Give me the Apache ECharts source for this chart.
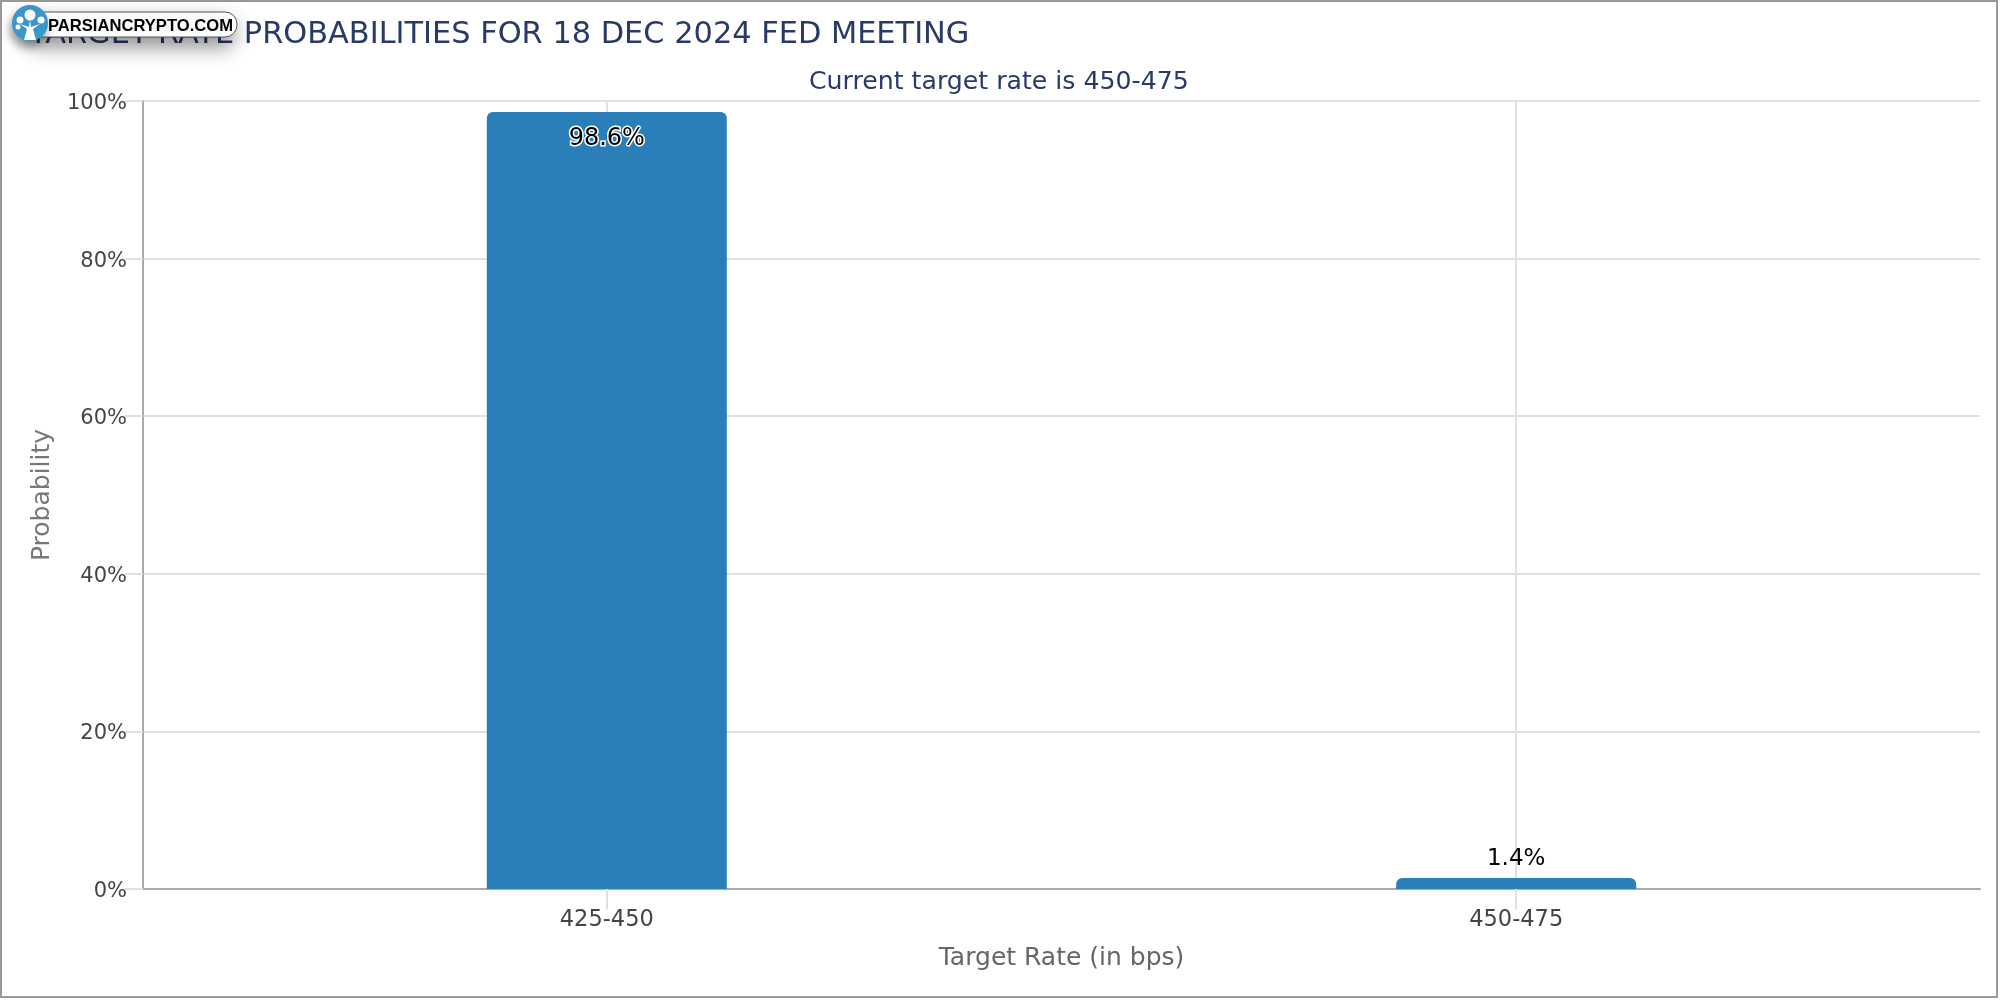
<!DOCTYPE html>
<html>
<head>
<meta charset="utf-8">
<title>Target rate probabilities</title>
<script src="https://cdn.jsdelivr.net/npm/echarts@6/dist/echarts.min.js"></script>
<style>
    html, body { margin: 0; padding: 0; background: #fff; }
    #chart { width: 2000px; height: 1000px; }
</style>
</head>
<body>
<div id="chart"></div>
<script>
var categories = ["425-450", "450-475"];
var probabilities = [98.6, 1.4];
var yTicks = [0, 20, 40, 60, 80, 100];

var fontName = "DejaVu Sans";
var titleColor = "#283a66";

(function () {
    var myChart = echarts.init(document.getElementById("chart"), null, { renderer: "canvas" });

    // 类目位置 0,1 （两端留白比默认的类目轴略大，所以用数值轴）
    var positions = categories.map(function (c, i) { return i; });

    var barData = probabilities.map(function (v, i) {
        return {
            value: [positions[i], v],
            label: v > 50
                ? { position: "insideTop", distance: 15, fontSize: 24, color: "#000", textBorderColor: "#fff", textBorderWidth: 3 }
                : { position: "top", distance: 7, fontSize: 23, color: "#000" }
        };
    });

    var option = {
        animation: false,
        backgroundColor: "#fff",
        textStyle: { fontFamily: fontName },
        title: [
            {
                text: "TARGET RATE PROBABILITIES FOR 18 DEC 2024 FED MEETING",
                left: 24,
                top: 15,
                textStyle: { fontFamily: fontName, fontSize: 30.4, fontWeight: "normal", color: titleColor }
            },
            {
                text: "Current target rate is 450-475",
                left: 804,
                top: 65,
                textStyle: { fontFamily: fontName, fontSize: 25.2, fontWeight: "normal", color: titleColor }
            }
        ],
        grid: { left: 143, right: 20, top: 101, bottom: 111, containLabel: false },
        xAxis: {
            type: "value",
            min: -0.51,
            max: 1.51,
            name: "Target Rate (in bps)",
            nameLocation: "middle",
            nameGap: 57,
            nameTextStyle: { color: "#666", fontSize: 25, fontFamily: fontName },
            axisLine: { onZero: false, lineStyle: { color: "#aaa", width: 2 } },
            axisTick: { show: true, customValues: positions, length: 20, lineStyle: { color: "#e0e0e0", width: 2 } },
            axisLabel: {
                customValues: positions,
                color: "#444",
                fontSize: 22.5,
                margin: 20,
                formatter: function (v) { return categories[v]; }
            },
            splitLine: { show: true, lineStyle: { color: "#e0e0e0", width: 2 } }
        },
        yAxis: {
            type: "value",
            min: yTicks[0],
            max: yTicks[yTicks.length - 1],
            interval: 20,
            name: "Probability",
            nameLocation: "middle",
            nameGap: 88,
            nameTextStyle: { color: "#777", fontSize: 25, fontFamily: fontName },
            axisLine: { show: true, onZero: false, lineStyle: { color: "#aaa", width: 2 } },
            axisTick: { show: true, length: 18, lineStyle: { color: "#e0e0e0", width: 2 } },
            axisLabel: {
                margin: 16,
                formatter: "{tick|{value}%}",
                rich: { tick: { color: "#444", fontSize: 21, padding: [5, 0, 0, 0] } }
            },
            splitLine: { show: true, lineStyle: { color: "#e0e0e0", width: 2 } }
        },
        series: [
            {
                type: "bar",
                barWidth: 240,
                data: barData,
                itemStyle: { color: "#2a7fb8", borderRadius: [6, 6, 0, 0] },
                label: {
                    show: true,
                    fontFamily: fontName,
                    formatter: function (p) { return p.value[1] + "%"; }
                }
            }
        ],
        graphic: [
            // 外边框
            {
                type: "rect",
                z: 50,
                shape: { x: 1, y: 1, width: 1996, height: 996 },
                style: { fill: "none", stroke: "#999", lineWidth: 2 }
            },
            // 水印 logo
            {
                type: "rect",
                z: 60,
                shape: { x: 30, y: 12, width: 207, height: 25, r: 12 },
                style: { fill: "#fff", stroke: "#555", lineWidth: 1, shadowBlur: 20, shadowColor: "rgba(0,0,0,0.45)", shadowOffsetX: -3, shadowOffsetY: 9 }
            },
            {
                type: "text",
                z: 62,
                style: { x: 48, y: 26, text: "PARSIANCRYPTO.COM", fill: "#000", font: "bold 16.6px 'Liberation Sans'", textVerticalAlign: "middle" }
            },
            {
                type: "circle",
                z: 63,
                shape: { cx: 30, cy: 23, r: 18 },
                style: { fill: "#3a97c9", shadowBlur: 10, shadowColor: "rgba(0,0,0,0.4)", shadowOffsetX: -2, shadowOffsetY: 6 }
            },
            { type: "polygon", z: 64, shape: { points: [[24, 40], [27, 29], [20, 24], [29, 27], [30, 20], [31, 27], [40, 24], [33, 29], [36, 40]] }, style: { fill: "#fff" } },
            { type: "circle", z: 64, shape: { cx: 30, cy: 15, r: 5.5 }, style: { fill: "#fff" } },
            { type: "circle", z: 64, shape: { cx: 20, cy: 20, r: 3.5 }, style: { fill: "#fff" } },
            { type: "circle", z: 64, shape: { cx: 41, cy: 20, r: 3.5 }, style: { fill: "#fff" } },
            { type: "circle", z: 64, shape: { cx: 18, cy: 27, r: 2.5 }, style: { fill: "#fff" } }
        ]
    };

    myChart.setOption(option);
    window.addEventListener("resize", function () {
        myChart.resize();
    });
})();
</script>
</body>
</html>
